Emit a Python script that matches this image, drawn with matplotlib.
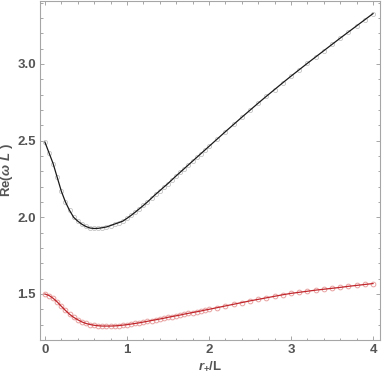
import numpy as np
import matplotlib
matplotlib.use("Agg")
import matplotlib.pyplot as plt
from matplotlib.ticker import MultipleLocator

# x sample positions (r+/L)
x_vals = [0.00, 0.05, 0.10, 0.15, 0.20, 0.25, 0.30, 0.35, 0.40, 0.45,
          0.50, 0.55, 0.60, 0.65, 0.70, 0.75, 0.80, 0.85, 0.90, 0.95,
          1.00, 1.05, 1.10, 1.15, 1.20, 1.25, 1.30, 1.35, 1.40, 1.45,
          1.50, 1.55, 1.60, 1.65, 1.70, 1.75, 1.80, 1.85, 1.90, 1.95,
          2.00, 2.1, 2.2, 2.3, 2.4, 2.5, 2.6, 2.7, 2.8, 2.9,
          3.0, 3.1, 3.2, 3.3, 3.4, 3.5, 3.6, 3.7, 3.8, 3.9, 4.0]

# upper (black) branch Re(omega L)
black_vals = [2.490, 2.420, 2.350, 2.260, 2.170, 2.100, 2.045, 2.000, 1.975, 1.955,
              1.940, 1.930, 1.927, 1.928, 1.932, 1.937, 1.946, 1.956, 1.965, 1.975,
              1.993, 2.012, 2.033, 2.055, 2.077, 2.100, 2.125, 2.150, 2.173, 2.197,
              2.220, 2.245, 2.270, 2.294, 2.318, 2.342, 2.366, 2.390, 2.414, 2.438,
              2.462, 2.510, 2.558, 2.605, 2.652, 2.698, 2.744, 2.789, 2.833, 2.877,
              2.920, 2.962, 3.004, 3.045, 3.086, 3.127, 3.168, 3.208, 3.248, 3.288, 3.328]

# lower (red) branch Re(omega L)
red_vals = [1.500, 1.490, 1.472, 1.448, 1.420, 1.393, 1.368, 1.348, 1.332, 1.318,
            1.308, 1.301, 1.296, 1.293, 1.291, 1.291, 1.291, 1.292, 1.294, 1.297,
            1.300, 1.304, 1.308, 1.312, 1.317, 1.322, 1.327, 1.332, 1.337, 1.342,
            1.348, 1.353, 1.358, 1.363, 1.369, 1.374, 1.379, 1.384, 1.389, 1.395,
            1.400, 1.411, 1.422, 1.433, 1.444, 1.455, 1.465, 1.475, 1.485, 1.495,
            1.504, 1.511, 1.518, 1.525, 1.531, 1.537, 1.543, 1.550, 1.556, 1.562, 1.568]

x_ticks = [0, 1, 2, 3, 4]
y_ticks = [1.5, 2.0, 2.5, 3.0]

plt.rcParams['font.family'] = ['Liberation Sans', 'DejaVu Sans']
plt.rcParams['mathtext.fontset'] = 'custom'
plt.rcParams['mathtext.it'] = 'Liberation Sans:italic:bold'
plt.rcParams['mathtext.rm'] = 'Liberation Sans:bold'

fig = plt.figure(figsize=(3.82, 3.77), dpi=100)
ax = fig.add_axes([40/382, 1-340/377, 340/382, 339/377])

# markers (open circles)
ax.plot(x_vals, black_vals, linestyle='none', marker='o', markersize=3.0,
        markerfacecolor='none', markeredgecolor='#c4c4c4', markeredgewidth=0.6)
ax.plot(x_vals, red_vals, linestyle='none', marker='o', markersize=3.4,
        markerfacecolor='none', markeredgecolor='#e8a0a0', markeredgewidth=0.7)
# lines
ax.plot(x_vals, black_vals, color='#1a1a1a', linewidth=0.9)
ax.plot(x_vals, red_vals, color='#c0262b', linewidth=0.9)

ax.set_xlim(-0.06, 4.085)
ax.set_ylim(1.20, 3.41)
ax.set_xticks(x_ticks)
ax.set_yticks(y_ticks)
ax.xaxis.set_minor_locator(MultipleLocator(0.2))
ax.yaxis.set_minor_locator(MultipleLocator(0.1))
ax.set_xticklabels([str(t) for t in x_ticks])
ax.set_yticklabels([f"{t:.1f}" for t in y_ticks])

for s in ax.spines.values():
    s.set_color('#a6a6a6')
    s.set_linewidth(0.8)
ax.tick_params(which='both', direction='in', top=True, right=True,
               color='#a6a6a6', width=0.7, labelcolor='#555555', labelsize=9.5)
ax.tick_params(which='major', length=3.2, pad=3)
ax.tick_params(which='minor', length=1.8)
for lab in ax.get_xticklabels() + ax.get_yticklabels():
    lab.set_fontweight('bold')

ax.set_xlabel(r'$r_{+}$/L', color='#555555', fontsize=9.5, fontweight='bold', labelpad=3)
ax.set_ylabel(r'Re($\omega\ L$ )', color='#555555', fontsize=9.5, fontweight='bold', labelpad=1.5)

fig.savefig('out.png', dpi=100)
